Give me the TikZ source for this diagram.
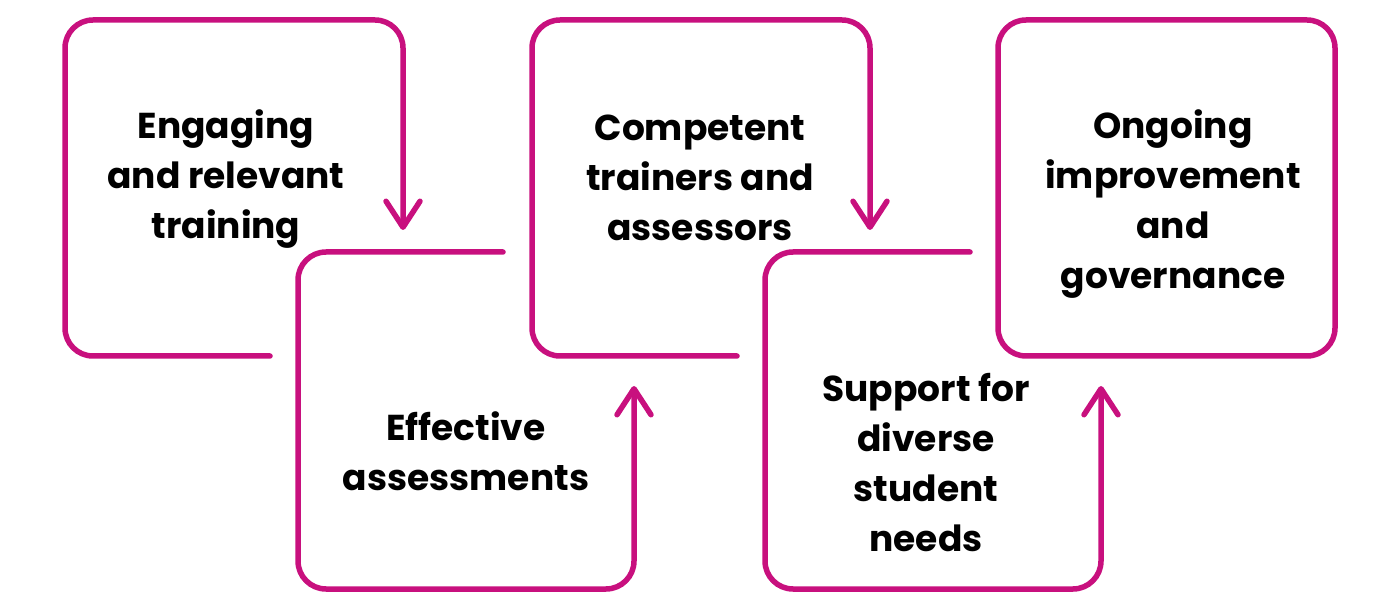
\documentclass[tikz,border=0pt]{standalone}
\usepackage{fontspec}
\setmainfont{Poppins}
\usetikzlibrary{arrows.meta}
\definecolor{loopmagenta}{HTML}{C8107E}

\begin{document}
\begin{tikzpicture}[x=1pt, y=-1pt,
    loopline/.style={draw=loopmagenta, line width=5.5pt, rounded corners=28pt, line cap=round, line join=round},
    arrowtip/.style={-{Straight Barb[length=26pt,width=34pt,round]}},
    boxtext/.style={font=\fontsize{36}{50}\selectfont\bfseries, align=center, text=black}]
	\useasboundingbox (0,0) rectangle (1385,612);
	% open frames, the second pair is shifted right
	\foreach \dx in {0,467}{
		\draw[loopline, arrowtip] (270+\dx,356) -- (65+\dx,356) -- (65+\dx,20) -- (403+\dx,20) -- (403+\dx,230);
		\draw[loopline, arrowtip] (503+\dx,252) -- (298+\dx,252) -- (298+\dx,589) -- (634+\dx,589) -- (634+\dx,386);
	}
	\draw[loopline] (998,20) rectangle (1335,356);
	\node[boxtext] (engaging) at (226,179) {Engaging\\and relevant\\training};
	\node[boxtext] (effective) at (466,451) {Effective\\assessments};
	\node[boxtext] (competent) at (700,178) {Competent\\trainers and\\assessors};
	\node[boxtext] (support) at (926,463) {Support for\\diverse\\student\\needs};
	\node[boxtext] (ongoing) at (1173,204) {Ongoing\\improvement\\and\\governance};
\end{tikzpicture}
\end{document}
